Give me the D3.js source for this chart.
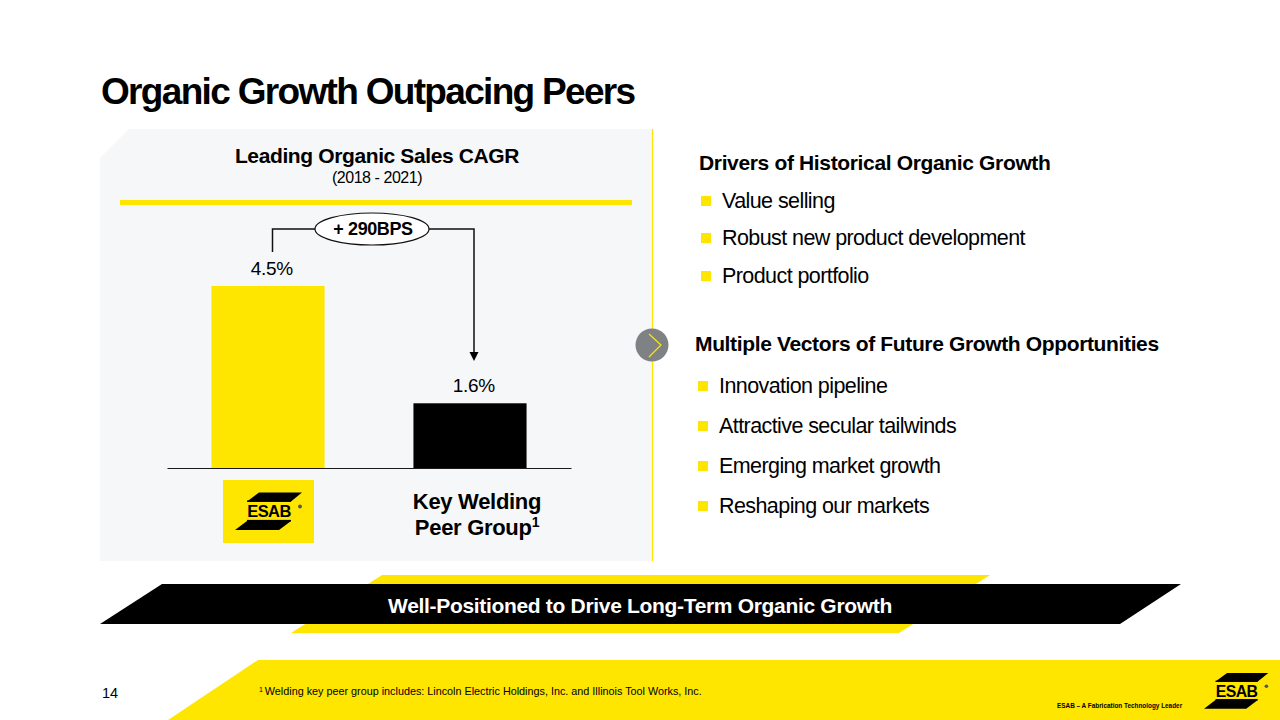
<!DOCTYPE html>
<html>
<head>
<meta charset="utf-8">
<script src="https://cdn.jsdelivr.net/npm/d3@7.9.0/dist/d3.min.js"></script>
<style>
  html, body { margin: 0; padding: 0; background: #fff; }
  svg { display: block; }
  text { font-family: "Liberation Sans", Arial, sans-serif; fill: #000; }
</style>
</head>
<body>
<svg id="slide" width="1280" height="720"></svg>
<script>
const categories = ['ESAB', 'Key Welding Peer Group'];
const values = [4.5, 1.6];
const valueLabels = ['4.5%', '1.6%'];
const barColors = ['#ffe600', '#000000'];
const deltaLabel = '+ 290BPS';

const driversTitle = 'Drivers of Historical Organic Growth';
const drivers = ['Value selling', 'Robust new product development', 'Product portfolio'];
const vectorsTitle = 'Multiple Vectors of Future Growth Opportunities';
const vectors = ['Innovation pipeline', 'Attractive secular tailwinds', 'Emerging market growth', 'Reshaping our markets'];

const YELLOW = '#ffe600';
const svg = d3.select('#slide');
const line = d3.line();

function poly(points, fill, parent = svg) {
  return parent.append('path').attr('d', line(points) + 'Z').attr('fill', fill);
}

function label(x, y, str, size, opts = {}) {
  return svg.append('text')
    .attr('x', x).attr('y', y)
    .attr('font-size', size)
    .attr('font-weight', opts.bold ? 700 : 400)
    .attr('text-anchor', opts.anchor || 'start')
    .attr('letter-spacing', opts.spacing || 0)
    .style('fill', opts.fill || '#000')
    .text(str);
}

/* page title */
label(101, 104, 'Organic Growth Outpacing Peers', 37, { bold: true, spacing: -1.68 });

/* left panel */
poly([[100, 158], [129, 129], [652, 129], [652, 561], [100, 561]], '#f6f7f9');
svg.append('line').attr('x1', 652.5).attr('x2', 652.5).attr('y1', 129).attr('y2', 561)
  .attr('stroke', YELLOW).attr('stroke-width', 1.2);

label(377, 163, 'Leading Organic Sales CAGR', 21, { bold: true, anchor: 'middle', spacing: -0.38 });
label(377, 183, '(2018 - 2021)', 16, { anchor: 'middle', spacing: -0.45 });
svg.append('rect').attr('x', 120).attr('y', 200).attr('width', 512).attr('height', 5).attr('fill', YELLOW);

/* bar chart */
const x = d3.scaleBand().domain(categories).range([167, 571]).paddingInner(0.44).paddingOuter(0.22);
const y = d3.scaleLinear().domain([0, 4.5]).range([468, 286]);

svg.selectAll('rect.bar')
  .data(categories)
  .join('rect')
  .attr('class', 'bar')
  .attr('x', d => x(d))
  .attr('width', x.bandwidth())
  .attr('y', (d, i) => y(values[i]))
  .attr('height', (d, i) => y(0) - y(values[i]))
  .attr('fill', (d, i) => barColors[i]);

svg.append('g')
  .attr('transform', `translate(0,${y(0)})`)
  .call(d3.axisBottom(x).tickSize(0).tickFormat(''))
  .call(g => g.select('.domain').attr('stroke', '#1a1a1a').attr('stroke-width', 1.2));

categories.forEach((c, i) => {
  label(x(c) + x.bandwidth() / 2 + 3.7, y(values[i]) - 11.5, valueLabels[i], 19, { anchor: 'middle', spacing: -0.3 });
});

/* bracket between the two bars */
const cx0 = x(categories[0]) + x.bandwidth() / 2 + 4.5;
const cx1 = x(categories[1]) + x.bandwidth() / 2 + 4;
svg.append('path')
  .attr('d', line([[cx0, 252], [cx0, 229], [cx1, 229], [cx1, 352]]))
  .attr('fill', 'none').attr('stroke', '#111').attr('stroke-width', 1.5);
poly([[cx1 - 4.5, 352], [cx1 + 4.5, 352], [cx1, 361]], '#000');
svg.append('ellipse').attr('cx', 372).attr('cy', 229).attr('rx', 57).attr('ry', 16)
  .attr('fill', '#fff').attr('stroke', '#111').attr('stroke-width', 1.2);
label(373, 235, deltaLabel, 18, { bold: true, anchor: 'middle', spacing: -0.4 });

/* logo, drawn at the size it has in the panel, origin at its top left */
function logo(tx, ty, sx, sy) {
  const g = svg.append('g').attr('transform', `translate(${tx},${ty}) scale(${sx},${sy})`);
  poly([[12, 9], [24, 0], [67, 0], [56, 9]], '#000', g);
  poly([[0, 37.5], [12, 28.5], [56, 28.5], [44, 37.5]], '#000', g);
  g.append('rect').attr('x', 12).attr('y', 8).attr('width', 44).attr('height', 1.4).attr('fill', '#000');
  g.append('rect').attr('x', 12).attr('y', 27.4).attr('width', 44).attr('height', 1.4).attr('fill', '#000');
  g.append('text').attr('x', 34).attr('y', 24.9).attr('text-anchor', 'middle')
    .attr('font-size', 16.5).attr('font-weight', 700).attr('letter-spacing', -0.6).text('ESAB');
  g.append('circle').attr('cx', 65).attr('cy', 14).attr('r', 1.9).attr('fill', '#555');
}
svg.append('rect').attr('x', 223).attr('y', 480).attr('width', 91).attr('height', 63).attr('fill', YELLOW);
logo(235, 492.5, 1, 1);

label(477, 509, 'Key Welding', 22, { bold: true, anchor: 'middle', spacing: -0.3 });
const peer = label(477, 535, 'Peer Group', 22, { bold: true, anchor: 'middle', spacing: -0.3 });
peer.append('tspan').attr('font-size', 14).attr('dy', -8).text('1');

/* chevron on the divider */
svg.append('circle').attr('cx', 652).attr('cy', 345).attr('r', 16.5).attr('fill', '#7f8284');
svg.append('path').attr('d', line([[649, 334], [661, 345], [649, 357]]))
  .attr('fill', 'none').attr('stroke', YELLOW).attr('stroke-width', 1.2);

/* right column lists */
function bullets(items, tx, ys) {
  svg.selectAll(null).data(items).join('rect')
    .attr('x', tx).attr('y', (d, i) => ys[i] - 12).attr('width', 10).attr('height', 10).attr('fill', YELLOW);
  items.forEach((d, i) => label(tx + 21, ys[i], d, 21.5, { spacing: -0.58 }));
}
label(699, 170, driversTitle, 21, { bold: true, spacing: -0.35 });
bullets(drivers, 701, [208, 245, 283]);
label(695, 351, vectorsTitle, 21, { bold: true, spacing: -0.36 });
bullets(vectors, 698, [393, 433, 473, 513]);

/* banner */
poly([[291, 633], [382, 575], [990, 575], [899, 633]], YELLOW);
poly([[100, 624], [162, 584], [1181, 584], [1120, 624]], '#000');
label(640, 613, 'Well-Positioned to Drive Long-Term Organic Growth', 21, { bold: true, anchor: 'middle', fill: '#fff', spacing: -0.32 });

/* footer */
poly([[168, 720], [258, 660], [1280, 660], [1280, 720]], YELLOW);
label(102, 698, '14', 14.5);
const note = label(259, 695, '', 10.8);
note.append('tspan').attr('font-size', 7).attr('dy', -3).text('1 ');
note.append('tspan').attr('dy', 3).text('Welding key peer group includes: Lincoln Electric Holdings, Inc. and Illinois Tool Works, Inc.');
label(1057, 708, 'ESAB \u2013 A Fabrication Technology Leader', 6.4, { bold: true });
logo(1204, 673, 0.96, 0.95);
</script>
</body>
</html>
